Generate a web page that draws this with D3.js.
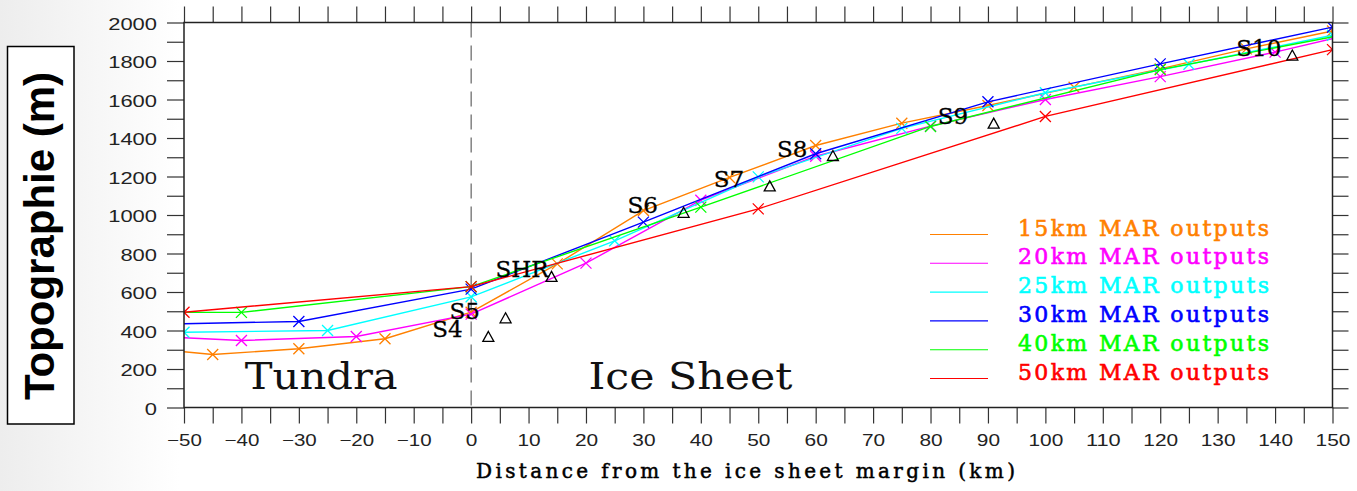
<!DOCTYPE html>
<html><head><meta charset="utf-8">
<script src="https://cdn.jsdelivr.net/npm/d3@7"></script>
<style>body{margin:0;background:#fff;} svg{display:block;}</style>
</head><body><svg id="c" width="1357" height="491"></svg>
<script>
// ---------- data ----------
const xTickValues = d3.range(-50, 151, 10);
const yTickValues = d3.range(0, 2001, 200);

const seriesNames  = ["15km MAR outputs","20km MAR outputs","25km MAR outputs","30km MAR outputs","40km MAR outputs","50km MAR outputs"];
const seriesColors = ["#ff8000","#ff00ff","#00ffff","#0000ff","#00ff00","#ff0000"];

const x15 = [-60, -45, -30, -15, 0, 15, 30, 45, 60, 75, 90, 105, 120, 135, 150];
const y15 = [320, 275, 305, 357, 495, 746, 1023, 1195, 1361, 1477, 1569, 1664, 1759, 1863, 1956];
const x20 = [-60, -40, -20, 0, 20, 40, 60, 80, 100, 120, 140, 160];
const y20 = [376, 348, 369, 485, 750, 1077, 1305, 1462, 1600, 1719, 1846, 1986];
const x25 = [-50, -25, 0, 25, 50, 75, 100, 125, 150];
const y25 = [391, 400, 575, 866, 1198, 1450, 1635, 1783, 1934];
const x30 = [-60, -30, 0, 30, 60, 90, 120, 150];
const y30 = [429, 447, 615, 963, 1318, 1588, 1785, 1976];
const x40 = [-80, -40, 0, 40, 80, 120, 160];
const y40 = [494, 494, 628, 1041, 1460, 1755, 1982];
const x50 = [-50, 0, 50, 100, 150];
const y50 = [495, 628, 1032, 1512, 1859];

const stationNames = ["S4","S5","SHR","S6","S7","S8","S9","S10"];
const stationX = [3, 6, 14, 37, 52, 63, 91, 143];
const stationY = [369, 466, 681, 1014, 1151, 1309, 1477, 1831];

const regionNames = ["Tundra", "Ice Sheet"];
const regionX = [-26.1, 38.2];

const xTitle = "Distance from the ice sheet margin (km)";
const yTitle = "Topographie (m)";

// ---------- layout ----------
const svg = d3.select("#c");
const L = 184, R = 1332.5, T = 22.5, B = 407.5;
const x = d3.scaleLinear().domain([-50, 150]).range([L, R]);
const y = d3.scaleLinear().domain([0, 2000]).range([B, T]);

const defs = svg.append("defs");
const grad = defs.append("linearGradient").attr("id","bg").attr("x1","0").attr("x2","1").attr("y1","0").attr("y2","0");
grad.append("stop").attr("offset","0").attr("stop-color","#ededed");
grad.append("stop").attr("offset","1").attr("stop-color","#ffffff");
svg.append("rect").attr("x",0).attr("y",0).attr("width",180).attr("height",491).attr("fill","url(#bg)");

defs.append("clipPath").attr("id","plot").append("rect")
  .attr("x", L).attr("y", T).attr("width", R - L).attr("height", B - T);

// axes (ticks outward on all sides)
const tickCol = "#333";
const minorX = d3.range(-50, 151, 5), minorY = d3.range(0, 2001, 100);
const fmt = d3.format("");
const gB = svg.append("g").attr("transform",`translate(0,${B})`)
  .call(d3.axisBottom(x).tickValues(minorX).tickSize(16).tickSizeOuter(0)
    .tickFormat(d => xTickValues.includes(d) ? fmt(d) : ""));
const gT = svg.append("g").attr("transform",`translate(0,${T})`)
  .call(d3.axisTop(x).tickValues(minorX).tickSize(16).tickSizeOuter(0).tickFormat(""));
const gL = svg.append("g").attr("transform",`translate(${L},0)`)
  .call(d3.axisLeft(y).tickValues(minorY).tickSize(17).tickSizeOuter(0)
    .tickFormat(d => yTickValues.includes(d) ? fmt(d) : ""));
const gR = svg.append("g").attr("transform",`translate(${R},0)`)
  .call(d3.axisRight(y).tickValues(minorY).tickSize(16).tickSizeOuter(0).tickFormat(""));
[gB,gT,gL,gR].forEach(g => {
  g.select(".domain").remove();
  g.selectAll(".tick line").attr("stroke", tickCol).attr("stroke-width", 1.2);
});
gB.selectAll(".tick text").filter(function(){return this.textContent.length>0;})
  .attr("y", 32.5).attr("dy","0.35em")
  .attr("font-family","'Liberation Sans', Arial, sans-serif").attr("font-size",16.5).attr("fill","#222")
  .attr("textLength", function(){return this.textContent.length*11.6;})
  .attr("lengthAdjust","spacingAndGlyphs");
gL.selectAll(".tick text").filter(function(){return this.textContent.length>0;})
  .attr("x", -27).attr("dy","0.42em")
  .attr("font-family","'Liberation Sans', Arial, sans-serif").attr("font-size",16.5).attr("fill","#222")
  .attr("textLength", function(){return this.textContent.length*12.2;})
  .attr("lengthAdjust","spacingAndGlyphs");

// dashed margin line
svg.append("line").attr("x1", x(0)).attr("x2", x(0)).attr("y1", T).attr("y2", B)
  .attr("stroke","#444").attr("stroke-width",1).attr("stroke-dasharray","15,8");

// series
const allX = [x15,x20,x25,x30,x40,x50], allY = [y15,y20,y25,y30,y40,y50];
const plotG = svg.append("g").attr("clip-path","url(#plot)");
const line = d3.line().x(d => x(d[0])).y(d => y(d[1]));
const cross = "M-5.5,-5.5L5.5,5.5M-5.5,5.5L5.5,-5.5";
allX.forEach((xs, i) => {
  const pts = xs.map((v, j) => [v, allY[i][j]]);
  plotG.append("path").datum(pts).attr("d", line).attr("fill","none")
    .attr("stroke", seriesColors[i]).attr("stroke-width", 1.4);
  plotG.selectAll(null).data(pts.filter(p => p[0] >= -50 && p[0] <= 150)).enter().append("path")
    .attr("transform", p => `translate(${x(p[0])},${y(p[1])})`)
    .attr("d", cross).attr("fill","none").attr("stroke", seriesColors[i]).attr("stroke-width", 1.3);
});

// stations
const tri = "M0,-5L5.5,5L-5.5,5Z";
stationNames.forEach((n, i) => {
  svg.append("path").attr("transform",`translate(${x(stationX[i])},${y(stationY[i])})`)
    .attr("d", tri).attr("fill","none").attr("stroke","#000").attr("stroke-width",1.3);
  svg.append("text").attr("x", x(stationX[i]) - 56).attr("y", y(stationY[i]) + 1)
    .attr("font-family","'DejaVu Serif', serif").attr("font-size", 23).attr("fill","#000")
    .attr("stroke","#000").attr("stroke-width",0.3).text(n);
});

// region labels
regionNames.forEach((n, i) => {
  svg.append("text").attr("x", x(regionX[i])).attr("y", 389).attr("text-anchor","middle")
    .attr("font-family","'DejaVu Serif', serif").attr("font-size",38).attr("fill","#111")
    .attr("textLength", i === 0 ? 153 : 204).attr("lengthAdjust","spacingAndGlyphs").text(n);
});

// plot border
svg.append("rect").attr("x", L).attr("y", T).attr("width", R - L).attr("height", B - T)
  .attr("fill","none").attr("stroke","#222").attr("stroke-width",1.5);

// legend
seriesNames.forEach((n, i) => {
  const yy = 234.5 + i * 28.8;
  svg.append("line").attr("x1", 930).attr("x2", 988).attr("y1", yy).attr("y2", yy)
    .attr("stroke", seriesColors[i]).attr("stroke-width", 1.1);
  svg.append("text").attr("x", 1018).attr("y", yy + 1)
    .attr("font-family","'DejaVu Serif', serif").attr("font-size",22).attr("fill", seriesColors[i])
    .attr("stroke", seriesColors[i]).attr("stroke-width", 0.6)
    .attr("textLength", 251).attr("lengthAdjust","spacing").text(n);
});

// x title
svg.append("text").attr("x", 745.5).attr("y", 478).attr("text-anchor","middle")
  .attr("font-family","'DejaVu Serif', serif").attr("font-size",20).attr("fill","#000")
  .attr("stroke","#000").attr("stroke-width",0.5)
  .attr("textLength", 539).attr("lengthAdjust","spacing").text(xTitle);

// y title in box
svg.append("rect").attr("x", 7.5).attr("y", 46.5).attr("width", 66.5).attr("height", 377.5)
  .attr("fill","#fff").attr("stroke","#000").attr("stroke-width",1.5);
svg.append("text").attr("transform","translate(54,236) rotate(-90)").attr("text-anchor","middle")
  .attr("font-family","'Liberation Sans', Arial, sans-serif").attr("font-weight","bold")
  .attr("font-size",42).attr("fill","#000").text(yTitle);
</script>
</body></html>
